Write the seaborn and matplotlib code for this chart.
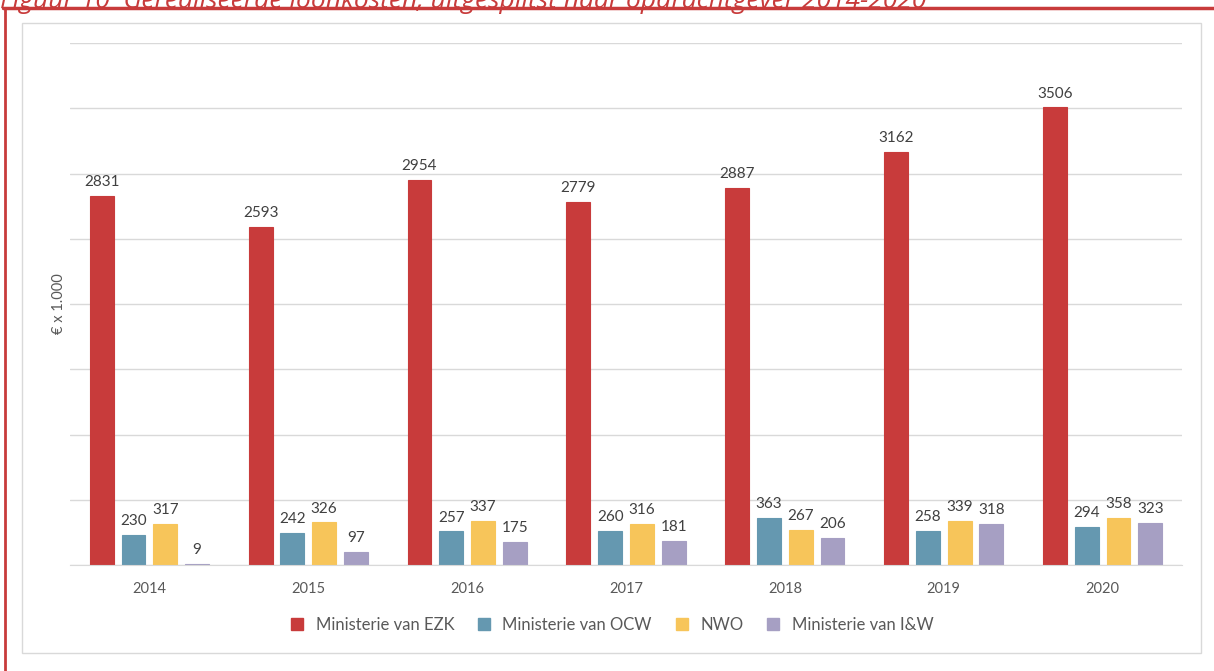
import pandas as pd
import matplotlib.pyplot as plt
import seaborn as sns
from matplotlib.lines import Line2D
from matplotlib.patches import Rectangle

# data from the chart
jaren = ['2014', '2015', '2016', '2017', '2018', '2019', '2020']
reeksen = ['Ministerie van EZK', 'Ministerie van OCW', 'NWO', 'Ministerie van I&W']
ezk = [2831, 2593, 2954, 2779, 2887, 3162, 3506]
ocw = [230, 242, 257, 260, 363, 258, 294]
nwo = [317, 326, 337, 316, 267, 339, 358]
ienw = [9, 97, 175, 181, 206, 318, 323]
kleuren = ['#C83B3B', '#6598B0', '#F7C55A', '#A69FC3']

titel = 'Figuur 10  Gerealiseerde loonkosten, uitgesplitst naar opdrachtgever 2014-2020'

rows = []
for naam, waarden in zip(reeksen, [ezk, ocw, nwo, ienw]):
    for j, w in zip(jaren, waarden):
        rows.append({'jaar': j, 'reeks': naam, 'waarde': w})
df = pd.DataFrame(rows)

sns.set_style('white')
plt.rcParams['font.family'] = ['Lato', 'DejaVu Sans']

fig = plt.figure(figsize=(12.14, 6.71), dpi=100)
ax = fig.add_axes([70 / 1214, 1 - 565 / 671, 1112 / 1214, 522 / 671])

sns.barplot(data=df, x='jaar', y='waarde', hue='reeks', palette=kleuren,
            width=0.8, gap=0.25, ax=ax, legend=True, saturation=1)

# thin edge so the tiny 2014 I&W bar stays visible
for p in ax.patches:
    p.set_edgecolor(p.get_facecolor())
    p.set_linewidth(0.8)

for cont in ax.containers:
    ax.bar_label(cont, padding=5, fontsize=11, color='#404040')

ax.set_ylim(0, 4000)
ax.set_yticks(range(0, 4001, 500))
ax.set_yticklabels([])
ax.tick_params(axis='y', length=0)
ax.tick_params(axis='x', length=0, labelsize=10.5, labelcolor='#595959', pad=12)
ax.grid(axis='y', color='#D9D9D9', linewidth=1)
ax.set_axisbelow(True)
for s in ['left', 'right', 'top']:
    ax.spines[s].set_visible(False)
ax.spines['bottom'].set_color('#D9D9D9')
ax.set_xlabel('')
ax.set_ylabel('€ x 1.000', fontsize=10.5, color='#595959')
ax.yaxis.set_label_coords(-4 / 1112, 0.5)

handles = [Line2D([], [], marker='s', linestyle='', markersize=9, color=k) for k in kleuren]
ax.legend(handles, reeksen, loc='center', bbox_to_anchor=(0.5, 1 - 625 / 671),
          bbox_transform=fig.transFigure, ncol=4, frameon=False, fontsize=12,
          labelcolor='#595959', handletextpad=0.1, columnspacing=0.8)

# grey chart frame and red page border
fig.patches.append(Rectangle((22 / 1214, 1 - 653 / 671), 1179 / 1214, 630 / 671,
                             transform=fig.transFigure, fill=False,
                             edgecolor='#D9D9D9', linewidth=1))
fig.lines.append(Line2D([3 / 1214, 1], [1 - 8 / 671, 1 - 8 / 671],
                        transform=fig.transFigure, color='#C83B3B', linewidth=2.5))
fig.lines.append(Line2D([5 / 1214, 5 / 1214], [0, 1 - 8 / 671],
                        transform=fig.transFigure, color='#C83B3B', linewidth=2))
fig.text(0.0, 1 - 1 / 671, titel, color='#C83B3B', fontsize=19, style='italic',
         ha='left', va='center', family=['Open Sans', 'DejaVu Sans'])

fig.savefig('out.png', dpi=100)
